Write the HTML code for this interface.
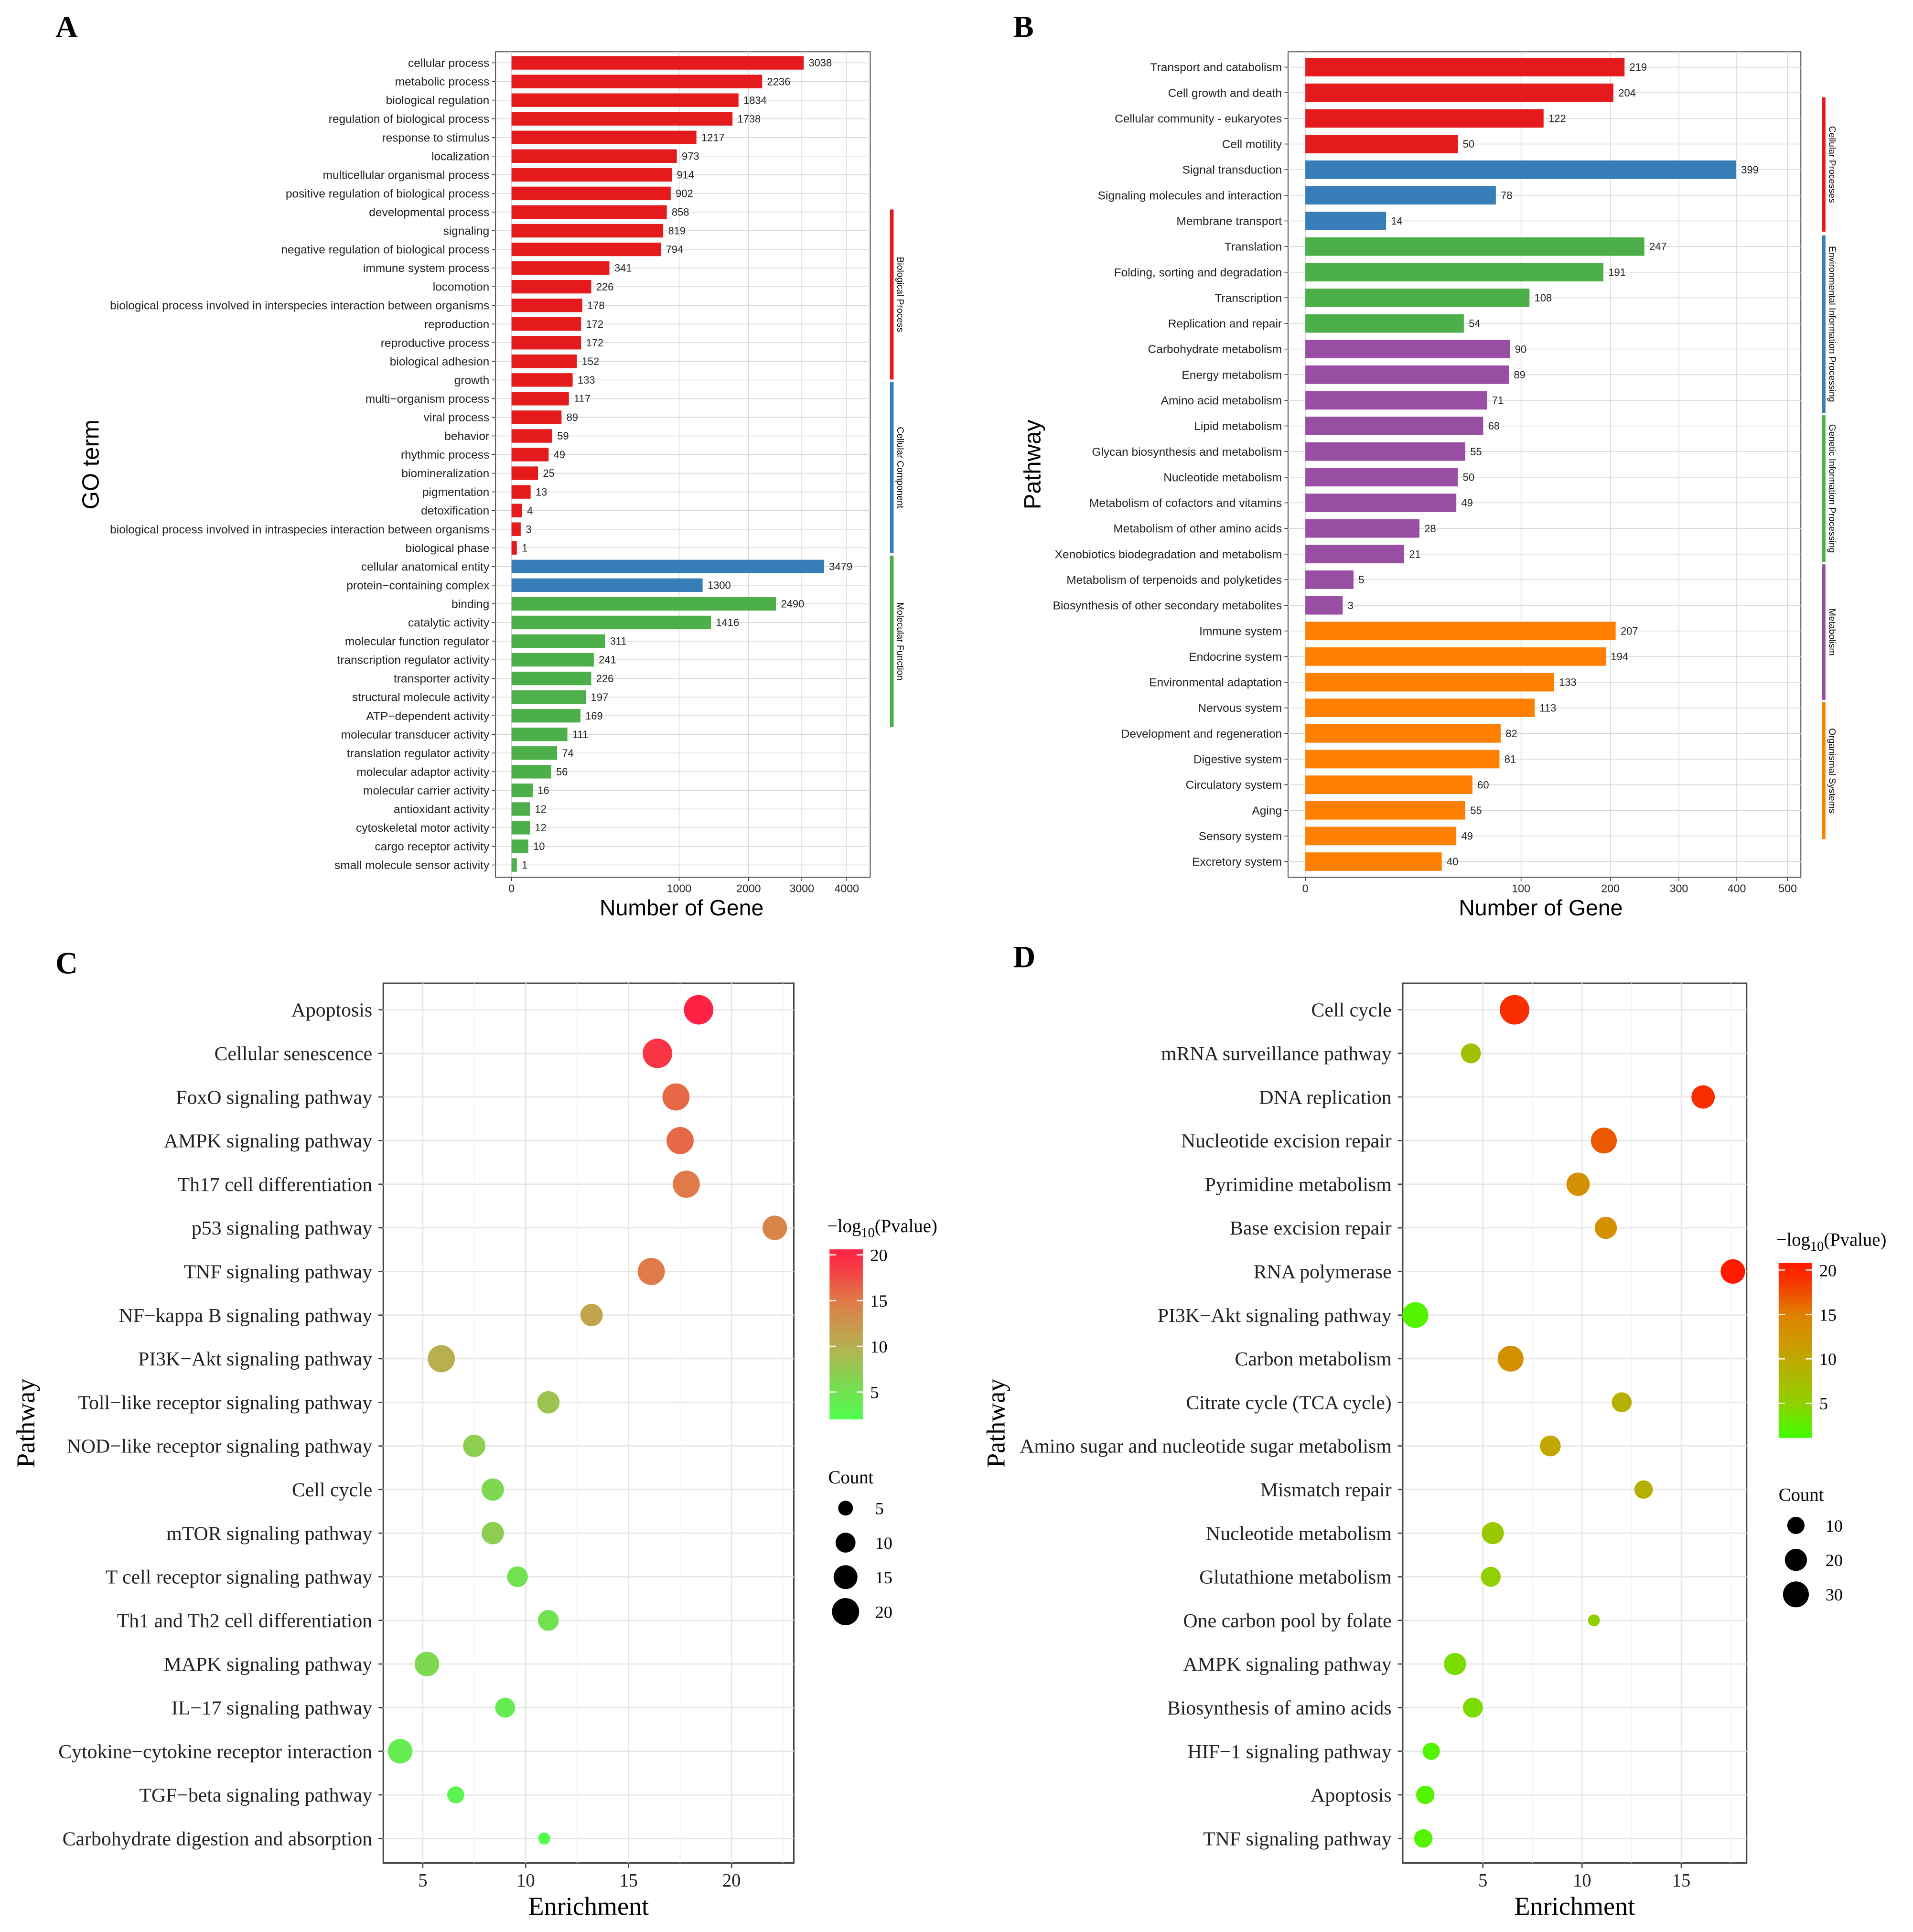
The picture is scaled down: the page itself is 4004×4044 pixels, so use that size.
<!DOCTYPE html>
<html><head><meta charset="utf-8">
<style>
html,body{margin:0;padding:0;background:#fff;}
svg{display:block;}
</style></head>
<body>
<svg id="fig" xmlns="http://www.w3.org/2000/svg" width="4004" height="4044" viewBox="0 0 1552 1568" preserveAspectRatio="none">
<rect x="0" y="0" width="1552" height="1568" fill="#fff"/>
<g id="pA"></g>
<g id="pB"></g>
<g id="pC"></g>
<g id="pD"></g>
</svg>
<script>
// ---------- Panel A data ----------
const aTerms = ["cellular process","metabolic process","biological regulation","regulation of biological process","response to stimulus","localization","multicellular organismal process","positive regulation of biological process","developmental process","signaling","negative regulation of biological process","immune system process","locomotion","biological process involved in interspecies interaction between organisms","reproduction","reproductive process","biological adhesion","growth","multi\u2212organism process","viral process","behavior","rhythmic process","biomineralization","pigmentation","detoxification","biological process involved in intraspecies interaction between organisms","biological phase","cellular anatomical entity","protein\u2212containing complex","binding","catalytic activity","molecular function regulator","transcription regulator activity","transporter activity","structural molecule activity","ATP\u2212dependent activity","molecular transducer activity","translation regulator activity","molecular adaptor activity","molecular carrier activity","antioxidant activity","cytoskeletal motor activity","cargo receptor activity","small molecule sensor activity"];
const aCounts = [3038,2236,1834,1738,1217,973,914,902,858,819,794,341,226,178,172,172,152,133,117,89,59,49,25,13,4,3,1,3479,1300,2490,1416,311,241,226,197,169,111,74,56,16,12,12,10,1];
const aGroups = ["BP","BP","BP","BP","BP","BP","BP","BP","BP","BP","BP","BP","BP","BP","BP","BP","BP","BP","BP","BP","BP","BP","BP","BP","BP","BP","BP","CC","CC","MF","MF","MF","MF","MF","MF","MF","MF","MF","MF","MF","MF","MF","MF","MF"];
const aTicks = [0,1000,2000,3000,4000];
// ---------- Panel B data ----------
const bTerms = ["Transport and catabolism","Cell growth and death","Cellular community - eukaryotes","Cell motility","Signal transduction","Signaling molecules and interaction","Membrane transport","Translation","Folding, sorting and degradation","Transcription","Replication and repair","Carbohydrate metabolism","Energy metabolism","Amino acid metabolism","Lipid metabolism","Glycan biosynthesis and metabolism","Nucleotide metabolism","Metabolism of cofactors and vitamins","Metabolism of other amino acids","Xenobiotics biodegradation and metabolism","Metabolism of terpenoids and polyketides","Biosynthesis of other secondary metabolites","Immune system","Endocrine system","Environmental adaptation","Nervous system","Development and regeneration","Digestive system","Circulatory system","Aging","Sensory system","Excretory system"];
const bCounts = [219,204,122,50,399,78,14,247,191,108,54,90,89,71,68,55,50,49,28,21,5,3,207,194,133,113,82,81,60,55,49,40];
const bGroups = ["CP","CP","CP","CP","EIP","EIP","EIP","GIP","GIP","GIP","GIP","M","M","M","M","M","M","M","M","M","M","M","OS","OS","OS","OS","OS","OS","OS","OS","OS","OS"];
const bTicks = [0,100,200,300,400,500];
// ---------- Panel C data ----------
const cTerms = ["Apoptosis","Cellular senescence","FoxO signaling pathway","AMPK signaling pathway","Th17 cell differentiation","p53 signaling pathway","TNF signaling pathway","NF\u2212kappa B signaling pathway","PI3K\u2212Akt signaling pathway","Toll\u2212like receptor signaling pathway","NOD\u2212like receptor signaling pathway","Cell cycle","mTOR signaling pathway","T cell receptor signaling pathway","Th1 and Th2 cell differentiation","MAPK signaling pathway","IL\u221217 signaling pathway","Cytokine\u2212cytokine receptor interaction","TGF\u2212beta signaling pathway","Carbohydrate digestion and absorption"];
const cEnrich = [18.4,16.4,17.3,17.5,17.8,22.1,16.1,13.2,5.9,11.1,7.5,8.4,8.4,9.6,11.1,5.2,9.0,3.9,6.6,10.9];
const cPval = [20,19,16,16,15,14,15,11,10,8,7,6,7,5,5,6,4,4,3,2];
const cCount = [24,24,20,20,20,16,20,13,20,13,13,13,13,11,11,16,10,16,7,3];
const cTicks = [5,10,15,20];
const cColTicks = [5,10,15,20];
const cSizeTicks = [5,10,15,20];
// ---------- Panel D data ----------
const dTerms = ["Cell cycle","mRNA surveillance pathway","DNA replication","Nucleotide excision repair","Pyrimidine metabolism","Base excision repair","RNA polymerase","PI3K\u2212Akt signaling pathway","Carbon metabolism","Citrate cycle (TCA cycle)","Amino sugar and nucleotide sugar metabolism","Mismatch repair","Nucleotide metabolism","Glutathione metabolism","One carbon pool by folate","AMPK signaling pathway","Biosynthesis of amino acids","HIF\u22121 signaling pathway","Apoptosis","TNF signaling pathway"];
const dEnrich = [6.6,4.4,16.1,11.1,9.8,11.2,17.6,1.6,6.4,12.0,8.4,13.1,5.5,5.4,10.6,3.6,4.5,2.4,2.1,2.0];
const dPval = [19,7,19,17,13,13,20,2,13,9,10,9,6,5,5,4,4,2,2,2];
const dCount = [42,15,23,30,23,20,26,30,30,15,17,12,20,15,3,20,15,10,12,12];
const dTicks = [5,10,15];
const dColTicks = [5,10,15,20];
const dSizeTicks = [10,20,30];

const NS="http://www.w3.org/2000/svg";
function el(parent,tag,attrs,text){const e=document.createElementNS(NS,tag);for(const k in attrs)e.setAttribute(k,attrs[k]);if(text!==undefined)e.textContent=text;parent.appendChild(e);return e;}

const fig=document.getElementById('fig');
[["A",45,30],["B",822,30],["C",45,790],["D",822,785]].forEach(([t,x,y])=>{
  const e=el(fig,'text',{x:x,y:y,'font-size':25,'font-weight':'bold','font-family':'Liberation Serif, serif'},t);
  
  
});

function barChart(g,cfg){
  const {terms,counts,groups,ticks,colors,x0,x1,y0,y1,k,rowTop,rowStep,barH,labFs,valFs,strips,stripX,yTitle,yTitleX,xTitleX} = cfg;
  const sx=v=>x0+k*Math.sqrt(v);
  const rowY=i=>rowTop+i*rowStep;
  const frame=el(g,'rect',{x:cfg.px0,y:y0,width:x1-cfg.px0,height:y1-y0,fill:'#fff',stroke:'#555','stroke-width':0.8});
  
  terms.forEach((t,i)=>{el(g,'line',{x1:cfg.px0,x2:x1,y1:rowY(i),y2:rowY(i),stroke:'#d6d6d6','stroke-width':0.6});});
  ticks.forEach(v=>{el(g,'line',{x1:sx(v),x2:sx(v),y1:y0,y2:y1,stroke:'#d6d6d6','stroke-width':0.6});});
  terms.forEach((t,i)=>{
    const y=rowY(i);
    const b=el(g,'rect',{x:sx(0),y:y-barH/2,width:Math.max(sx(counts[i])-sx(0),0.5),height:barH,fill:colors[groups[i]]});
    
    
    el(g,'text',{x:sx(counts[i])+4,y:y+valFs*0.35,'font-size':valFs,'font-family':'Liberation Sans, sans-serif',fill:'#222'},counts[i]);
    const l=el(g,'text',{x:cfg.px0-5,y:y+labFs*0.35,'font-size':labFs,'text-anchor':'end','font-family':'Liberation Sans, sans-serif',fill:'#222'},t);
    
    
    el(g,'line',{x1:cfg.px0-3,x2:cfg.px0,y1:y,y2:y,stroke:'#333','stroke-width':0.6});
  });
  ticks.forEach(v=>{
    el(g,'line',{x1:sx(v),x2:sx(v),y1:y1,y2:y1+3,stroke:'#333','stroke-width':0.6});
    const tl=el(g,'text',{x:sx(v),y:y1+12,'font-size':9,'text-anchor':'middle','font-family':'Liberation Sans, sans-serif',fill:'#222'},v);
    
    
  });
  const xt=el(g,'text',{x:xTitleX,y:y1+31,'font-size':18,'text-anchor':'middle','font-family':'Liberation Sans, sans-serif'},'Number of Gene');
  
  const yt=el(g,'text',{x:yTitleX,y:(y0+y1)/2,'font-size':19,'text-anchor':'middle','font-family':'Liberation Sans, sans-serif',transform:`rotate(-90 ${yTitleX} ${(y0+y1)/2})`},yTitle);
  
  strips.forEach(s=>{
    const r=el(g,'rect',{x:stripX,y:s.a,width:3,height:s.b-s.a,fill:s.c});
    
    const cx=stripX+8, cy=(s.a+s.b)/2;
    const t=el(g,'text',{x:cx,y:cy,'font-size':7.5,'text-anchor':'middle','font-family':'Liberation Sans, sans-serif',transform:`rotate(90 ${cx} ${cy})`,'dominant-baseline':'middle'},s.t);
    
  });
}

barChart(document.getElementById('pA'),{terms:aTerms,counts:aCounts,groups:aGroups,ticks:aTicks,
  colors:{BP:'#e41a1c',CC:'#377eb8',MF:'#4daf4a'},px0:402,x0:415,x1:706,y0:42,y1:712,k:4.3,
  rowTop:51,rowStep:15.14,barH:11,labFs:9.5,valFs:8.5,stripX:722,yTitle:'GO term',yTitleX:80,xTitleX:553,
  strips:[{a:170,b:308,c:'#e41a1c',t:'Biological Process'},{a:310,b:449,c:'#377eb8',t:'Cellular Component'},{a:451,b:590,c:'#4daf4a',t:'Molecular Function'}]});
barChart(document.getElementById('pB'),{terms:bTerms,counts:bCounts,groups:bGroups,ticks:bTicks,
  colors:{CP:'#e41a1c',EIP:'#377eb8',GIP:'#4daf4a',M:'#984ea3',OS:'#ff7f00'},px0:1045,x0:1059,x1:1461,y0:42,y1:712,k:17.5,
  rowTop:54.5,rowStep:20.8,barH:15,labFs:9.5,valFs:8.5,stripX:1478,yTitle:'Pathway',yTitleX:844,xTitleX:1250,
  strips:[{a:79,b:188,c:'#e41a1c',t:'Cellular Processes'},{a:191,b:335,c:'#377eb8',t:'Environmental Information Processing'},{a:337,b:456,c:'#4daf4a',t:'Genetic Information Processing'},{a:458,b:568,c:'#984ea3',t:'Metabolism'},{a:570,b:681,c:'#ff7f00',t:'Organismal Systems'}]});

function rgbStr(c){return `rgb(${c[0]},${c[1]},${c[2]})`;}
function lerpColor(stops,v){
  if(v<=stops[0][0])return rgbStr(stops[0][1]);
  for(let i=1;i<stops.length;i++){if(v<=stops[i][0]){const [a,ca]=stops[i-1],[b,cb]=stops[i];const t=(v-a)/(b-a);
    const c=ca.map((x,j)=>Math.round(x+(cb[j]-x)*t));return rgbStr(c);}}
  return rgbStr(stops[stops.length-1][1]);
}
function dotPlot(g,cfg){
  const {terms,enrich,pval,count,ticks,colTicks,sizeTicks,x0,x1,y0,y1,ux,xzero,rowTop,rowStep,stops,ra,rb,cb,sl,labX,id}=cfg;
  const sx=v=>xzero+ux*v;
  const rowY=i=>rowTop+i*rowStep;
  const rad=c=>ra+rb*Math.sqrt(c);
  const fr=el(g,'rect',{x:x0,y:y0,width:x1-x0,height:y1-y0,fill:'#fff',stroke:'#444','stroke-width':1.2});
  
  terms.forEach((t,i)=>el(g,'line',{x1:x0,x2:x1,y1:rowY(i),y2:rowY(i),stroke:'#e6e6e6','stroke-width':1}));
  ticks.forEach(v=>el(g,'line',{x1:sx(v),x2:sx(v),y1:y0,y2:y1,stroke:'#e6e6e6','stroke-width':1}));
  ticks.forEach(v=>el(g,'line',{x1:sx(v)+ux*2.5,x2:sx(v)+ux*2.5,y1:y0,y2:y1,stroke:'#f1f1f1','stroke-width':0.6}));
  terms.forEach((t,i)=>{
    const y=rowY(i);
    const l=el(g,'text',{x:labX,y:y+5.5,'font-size':16.2,'text-anchor':'end','font-family':'Liberation Serif, serif',fill:'#222'},t);
    
    el(g,'line',{x1:x0-4,x2:x0,y1:y,y2:y,stroke:'#444','stroke-width':1});
    const c=el(g,'circle',{cx:sx(enrich[i]),cy:y,r:rad(count[i]),fill:lerpColor(stops,pval[i])});
    
    
  });
  ticks.forEach(v=>{
    el(g,'line',{x1:sx(v),x2:sx(v),y1:y1,y2:y1+4,stroke:'#444','stroke-width':1});
    const tl=el(g,'text',{x:sx(v),y:y1+19,'font-size':15,'text-anchor':'middle','font-family':'Liberation Serif, serif',fill:'#222'},v);
    
  });
  const xt=el(g,'text',{x:(x0+x1)/2,y:y1+42,'font-size':21,'text-anchor':'middle','font-family':'Liberation Serif, serif'},'Enrichment');
  
  const yx=cfg.yTitleX, yy=(y0+y1)/2;
  const yt=el(g,'text',{x:yx,y:yy,'font-size':21,'text-anchor':'middle','font-family':'Liberation Serif, serif',transform:`rotate(-90 ${yx} ${yy})`},'Pathway');
  
  const defs=el(g,'defs',{});
  const lg=el(defs,'linearGradient',{id:'grad'+id,x1:0,y1:1,x2:0,y2:0});
  const vmin=cb.vmin,vmax=cb.vmax;
  for(let i=0;i<=10;i++){const v=vmin+(vmax-vmin)*i/10;el(lg,'stop',{offset:(i*10)+'%','stop-color':lerpColor(stops,v)});}
  const cby=v=>cb.yb-(v-vmin)/(vmax-vmin)*(cb.yb-cb.yt);
  const lt=el(g,'text',{x:cb.x-2,y:cb.yt-14,'font-size':15,'font-family':'Liberation Serif, serif'});
  
  el(lt,'tspan',{},'\u2212log');el(lt,'tspan',{dy:4,'font-size':11},'10');el(lt,'tspan',{dy:-4},'(Pvalue)');
  const bar=el(g,'rect',{x:cb.x,y:cb.yt,width:27,height:cb.yb-cb.yt,fill:`url(#grad${id})`});
  
  colTicks.forEach(v=>{const y=cby(v);
    el(g,'line',{x1:cb.x,x2:cb.x+5,y1:y,y2:y,stroke:'#fff','stroke-width':1});
    el(g,'line',{x1:cb.x+22,x2:cb.x+27,y1:y,y2:y,stroke:'#fff','stroke-width':1});
    const t=el(g,'text',{x:cb.x+33,y:y+5,'font-size':14,'font-family':'Liberation Serif, serif'},v);
    });
  const st=el(g,'text',{x:sl.x-14,y:sl.y-20,'font-size':15,'font-family':'Liberation Serif, serif'},'Count');
  
  sizeTicks.forEach((v,i)=>{const y=sl.y+i*28;
    const c=el(g,'circle',{cx:sl.x,cy:y,r:rad(v),fill:'#000'});
    
    const t=el(g,'text',{x:sl.x+24,y:y+5,'font-size':14,'font-family':'Liberation Serif, serif'},v);
    });
}

dotPlot(document.getElementById('pC'),{id:'C',terms:cTerms,enrich:cEnrich,pval:cPval,count:cCount,ticks:cTicks,colTicks:cColTicks,sizeTicks:cSizeTicks,
  x0:311,x1:644,y0:798,y1:1512,ux:16.7,xzero:259.5,rowTop:819.5,rowStep:35.4,labX:302,yTitleX:28,
  stops:[[2,[80,255,80]],[5,[112,226,80]],[10,[184,176,80]],[15,[224,122,72]],[20,[255,34,68]]],
  ra:1,rb:2.24,cb:{x:673,yt:1014,yb:1152,vmin:2,vmax:20.6},sl:{x:686,y:1224}});
dotPlot(document.getElementById('pD'),{id:'D',terms:dTerms,enrich:dEnrich,pval:dPval,count:dCount,ticks:dTicks,colTicks:dColTicks,sizeTicks:dSizeTicks,
  x0:1138,x1:1417,y0:798,y1:1512,ux:16.1,xzero:1122.5,rowTop:819.5,rowStep:35.4,labX:1129,yTitleX:815,
  stops:[[1,[64,255,0]],[5,[144,208,0]],[10,[192,168,0]],[15,[224,128,0]],[20,[255,26,0]]],
  ra:2.23,rb:1.51,cb:{x:1443,yt:1025,yb:1167,vmin:1.1,vmax:20.8},sl:{x:1457,y:1238}});
</script>
</body></html>
